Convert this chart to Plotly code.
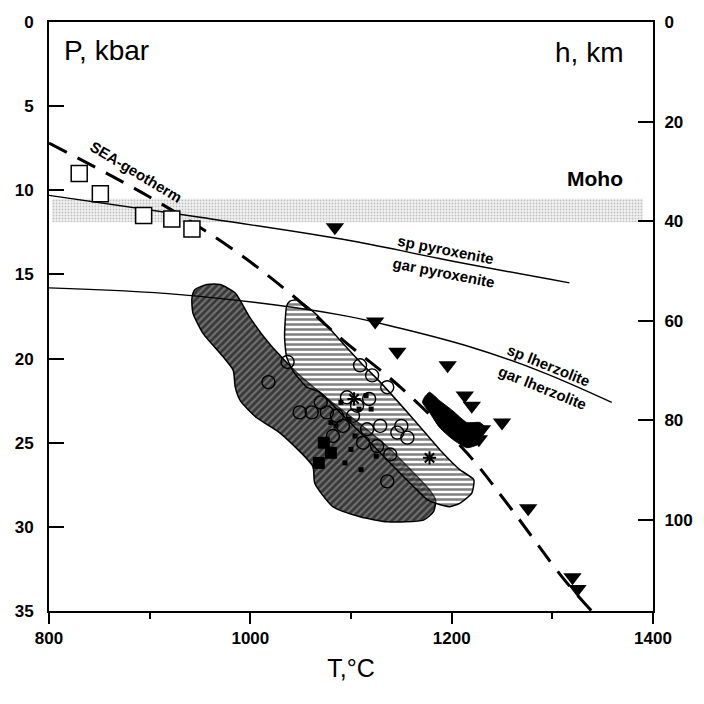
import plotly.graph_objects as go

# ---------------- data (T in °C, P in kbar) ----------------
geotherm_T = [800, 900, 980, 1039, 1092, 1149, 1215, 1260, 1310, 1339]
geotherm_P = [7.2, 10.4, 13.4, 16.1, 18.9, 21.7, 25.6, 29.0, 33.0, 35.0]

pyrox_T = [800, 950, 1100, 1200, 1317]
pyrox_P = [10.3, 11.6, 13.0, 14.2, 15.5]

lherz_T = [800, 930, 1089, 1149, 1218, 1290, 1359]
lherz_P = [15.8, 16.2, 17.4, 18.2, 19.3, 20.8, 22.6]

moho_T = [803, 1390, 1390, 803, 803]
moho_P = [10.5, 10.5, 11.9, 11.9, 10.5]

dark_T = [957, 970, 985, 1000, 1020, 1049, 1079, 1109, 1139, 1164, 1178, 1184, 1182, 1172,
          1136, 1109, 1082, 1064, 1062, 1029, 1006, 990, 985, 983, 973, 953, 943, 942, 945, 957]
dark_P = [15.6, 15.6, 16.1, 17.6, 19.2, 21.0, 22.5, 23.9, 25.4, 26.9, 27.8, 28.4, 29.1, 29.6,
          29.7, 29.4, 28.8, 27.4, 26.4, 24.4, 23.5, 22.5, 21.7, 20.7, 19.9, 18.5, 17.3, 16.4, 15.9, 15.6]

striped_T = [1039, 1047, 1066, 1086, 1109, 1129, 1162, 1191, 1208, 1222, 1220, 1208, 1198, 1184,
             1176, 1162, 1142, 1116, 1089, 1069, 1056, 1042, 1036, 1034, 1036, 1039]
striped_P = [16.6, 16.5, 17.4, 18.7, 20.2, 21.4, 23.6, 25.6, 26.6, 27.2, 28.0, 28.6, 28.8, 28.6,
             28.4, 27.6, 26.4, 24.8, 23.2, 22.0, 21.7, 20.7, 19.9, 18.7, 16.9, 16.6]

blob_T = [1173, 1178, 1188, 1201, 1215, 1228, 1235, 1231, 1226, 1215, 1201, 1188, 1178, 1171, 1173]
blob_P = [22.3, 22.0, 22.5, 23.1, 23.8, 23.8, 24.2, 24.5, 25.1, 25.3, 24.8, 24.1, 23.2, 22.6, 22.3]

squares_T = [830, 851, 894, 922, 942]
squares_P = [9.0, 10.2, 11.5, 11.7, 12.3]

tri_T = [1084, 1124, 1146, 1196, 1213, 1220, 1250, 1230, 1227, 1276, 1320, 1325]
tri_P = [12.2, 17.8, 19.6, 20.4, 22.2, 22.8, 23.8, 24.2, 24.8, 28.9, 33.0, 33.7]

circ_T = [1018, 1037, 1049, 1061, 1109, 1121, 1136, 1156, 1139, 1136, 1076, 1086, 1102, 1116,
          1129, 1146, 1082, 1092, 1106, 1112, 1126, 1096, 1070, 1118, 1150]
circ_P = [21.4, 20.2, 23.2, 23.2, 20.4, 21.0, 21.7, 24.7, 25.7, 27.3, 23.2, 23.4, 23.4, 24.2,
          24.0, 24.4, 24.6, 24.0, 22.8, 25.0, 25.2, 22.3, 22.6, 22.4, 24.0]

fsq_T = [1073, 1080, 1068]
fsq_P = [25.0, 25.6, 26.2]

star_T = [1178, 1103]
star_P = [25.9, 22.4]

dot_T = [1090, 1098, 1108, 1115, 1100, 1085, 1120, 1094, 1110, 1125, 1080, 1104]
dot_P = [22.6, 23.6, 23.0, 22.2, 25.4, 24.0, 23.0, 26.2, 26.6, 25.8, 23.8, 24.6]

h_ticks = [0, 20, 40, 60, 80, 100]
P_ticks = [0, 5, 10, 15, 20, 25, 30, 35]
T_ticks = [800, 1000, 1200, 1400]
T_minor = [900, 1100, 1300]

FONT = "Liberation Sans, Arial, sans-serif"

fig = go.Figure()

# Moho band
fig.add_trace(go.Scatter(x=moho_T, y=moho_P, mode="lines", fill="toself",
                         line=dict(width=0), fillcolor="#f0f0f0",
                         fillpattern=dict(shape=".", fgcolor="#8c8c8c", bgcolor="#f2f2f2",
                                          size=3, solidity=0.3),
                         hoverinfo="skip", showlegend=False))

# dark hatched field
fig.add_trace(go.Scatter(x=dark_T, y=dark_P, mode="lines", fill="toself",
                         line=dict(color="black", width=1.5, shape="spline", smoothing=0.6),
                         fillpattern=dict(shape="/", fgcolor="black", bgcolor="#707070",
                                          size=5, solidity=0.55),
                         hoverinfo="skip", showlegend=False))

# striped field
fig.add_trace(go.Scatter(x=striped_T, y=striped_P, mode="lines", fill="toself",
                         line=dict(color="black", width=1.5, shape="spline", smoothing=0.5),
                         fillpattern=dict(shape="-", fgcolor="black", bgcolor="rgba(255,255,255,0.25)",
                                          size=5, solidity=0.5),
                         hoverinfo="skip", showlegend=False))

# black blob
fig.add_trace(go.Scatter(x=blob_T, y=blob_P, mode="lines", fill="toself",
                         line=dict(color="black", width=1, shape="spline", smoothing=0.5),
                         fillcolor="black", hoverinfo="skip", showlegend=False))

# phase boundaries
fig.add_trace(go.Scatter(x=pyrox_T, y=pyrox_P, mode="lines",
                         line=dict(color="black", width=1.4, shape="spline"),
                         hoverinfo="skip", showlegend=False))
fig.add_trace(go.Scatter(x=lherz_T, y=lherz_P, mode="lines",
                         line=dict(color="black", width=1.4, shape="spline"),
                         hoverinfo="skip", showlegend=False))

# geotherm
fig.add_trace(go.Scatter(x=geotherm_T, y=geotherm_P, mode="lines",
                         line=dict(color="black", width=3, dash="20px,12px", shape="spline"),
                         hoverinfo="skip", showlegend=False))

# markers
fig.add_trace(go.Scatter(x=circ_T, y=circ_P, mode="markers",
                         marker=dict(symbol="circle-open", size=13, color="black",
                                     line=dict(width=1.4)),
                         showlegend=False))
fig.add_trace(go.Scatter(x=dot_T, y=dot_P, mode="markers",
                         marker=dict(symbol="square", size=5, color="black"),
                         showlegend=False))
fig.add_trace(go.Scatter(x=fsq_T, y=fsq_P, mode="markers",
                         marker=dict(symbol="square", size=12, color="black"),
                         showlegend=False))
fig.add_trace(go.Scatter(x=star_T, y=star_P, mode="markers",
                         marker=dict(symbol="asterisk-open", size=11, color="black",
                                     line=dict(width=2, color="black")),
                         showlegend=False))
fig.add_trace(go.Scatter(x=squares_T, y=squares_P, mode="markers",
                         marker=dict(symbol="square", size=16, color="white",
                                     line=dict(width=1.5, color="black")),
                         showlegend=False))
fig.add_trace(go.Scatter(x=tri_T, y=tri_P, mode="markers",
                         marker=dict(symbol="triangle-down", size=16, color="black"),
                         showlegend=False))

# invisible trace for right axis
fig.add_trace(go.Scatter(x=[800], y=[0], yaxis="y2", mode="markers",
                         marker=dict(opacity=0), hoverinfo="skip", showlegend=False))

ann_font = dict(family=FONT, size=15, color="black", weight="bold")
annotations = [
    dict(x=813, y=1.7, text="P, kbar", xanchor="left", font=dict(family=FONT, size=28, color="black")),
    dict(x=1372, y=1.8, text="h, km", xanchor="right", font=dict(family=FONT, size=28, color="black")),
    dict(x=1372, y=9.3, text="Moho", xanchor="right",
         font=dict(family=FONT, size=21, color="black", weight="bold")),
    dict(x=886, y=8.9, text="SEA-geotherm", textangle=31, font=ann_font),
    dict(x=1194, y=13.5, text="sp pyroxenite", textangle=11, font=ann_font),
    dict(x=1192, y=14.9, text="gar pyroxenite", textangle=11, font=ann_font),
    dict(x=1297, y=20.4, text="sp lherzolite", textangle=22, font=ann_font),
    dict(x=1290, y=21.7, text="gar lherzolite", textangle=22, font=ann_font),
]
for a in annotations:
    a.update(xref="x", yref="y", showarrow=False)

tickfont = dict(family=FONT, size=17, color="black", weight="bold")

fig.update_layout(
    width=704, height=704,
    margin=dict(l=49, r=51, t=22, b=93),
    paper_bgcolor="white", plot_bgcolor="white",
    font=dict(family=FONT, size=17, color="black"),
    annotations=annotations,
    xaxis=dict(range=[800, 1400], tickvals=T_ticks, ticks="outside", ticklen=11,
               tickwidth=1.5, tickcolor="black", showline=True, linecolor="black",
               linewidth=2, mirror=True, showgrid=False, zeroline=False,
               minor=dict(tickvals=T_minor, ticks="outside", ticklen=6,
                          tickwidth=1.5, tickcolor="black", showgrid=False),
               title=dict(text="T,°C", font=dict(family=FONT, size=25), standoff=12),
               tickfont=tickfont),
    yaxis=dict(range=[35, 0], tickvals=P_ticks, ticks="inside", ticklen=15,
               tickwidth=1.5, tickcolor="black", showline=True, linecolor="black",
               linewidth=2, mirror=True, showgrid=False, zeroline=False,
               ticklabelstandoff=10, tickfont=tickfont),
    yaxis2=dict(range=[118.3, 0], tickvals=h_ticks, ticks="inside", ticklen=15,
                tickwidth=1.5, tickcolor="black", overlaying="y", side="right",
                showline=True, linecolor="black", linewidth=2, showgrid=False,
                zeroline=False, ticklabelstandoff=6, tickfont=tickfont),
)

fig.write_html("out.html")
